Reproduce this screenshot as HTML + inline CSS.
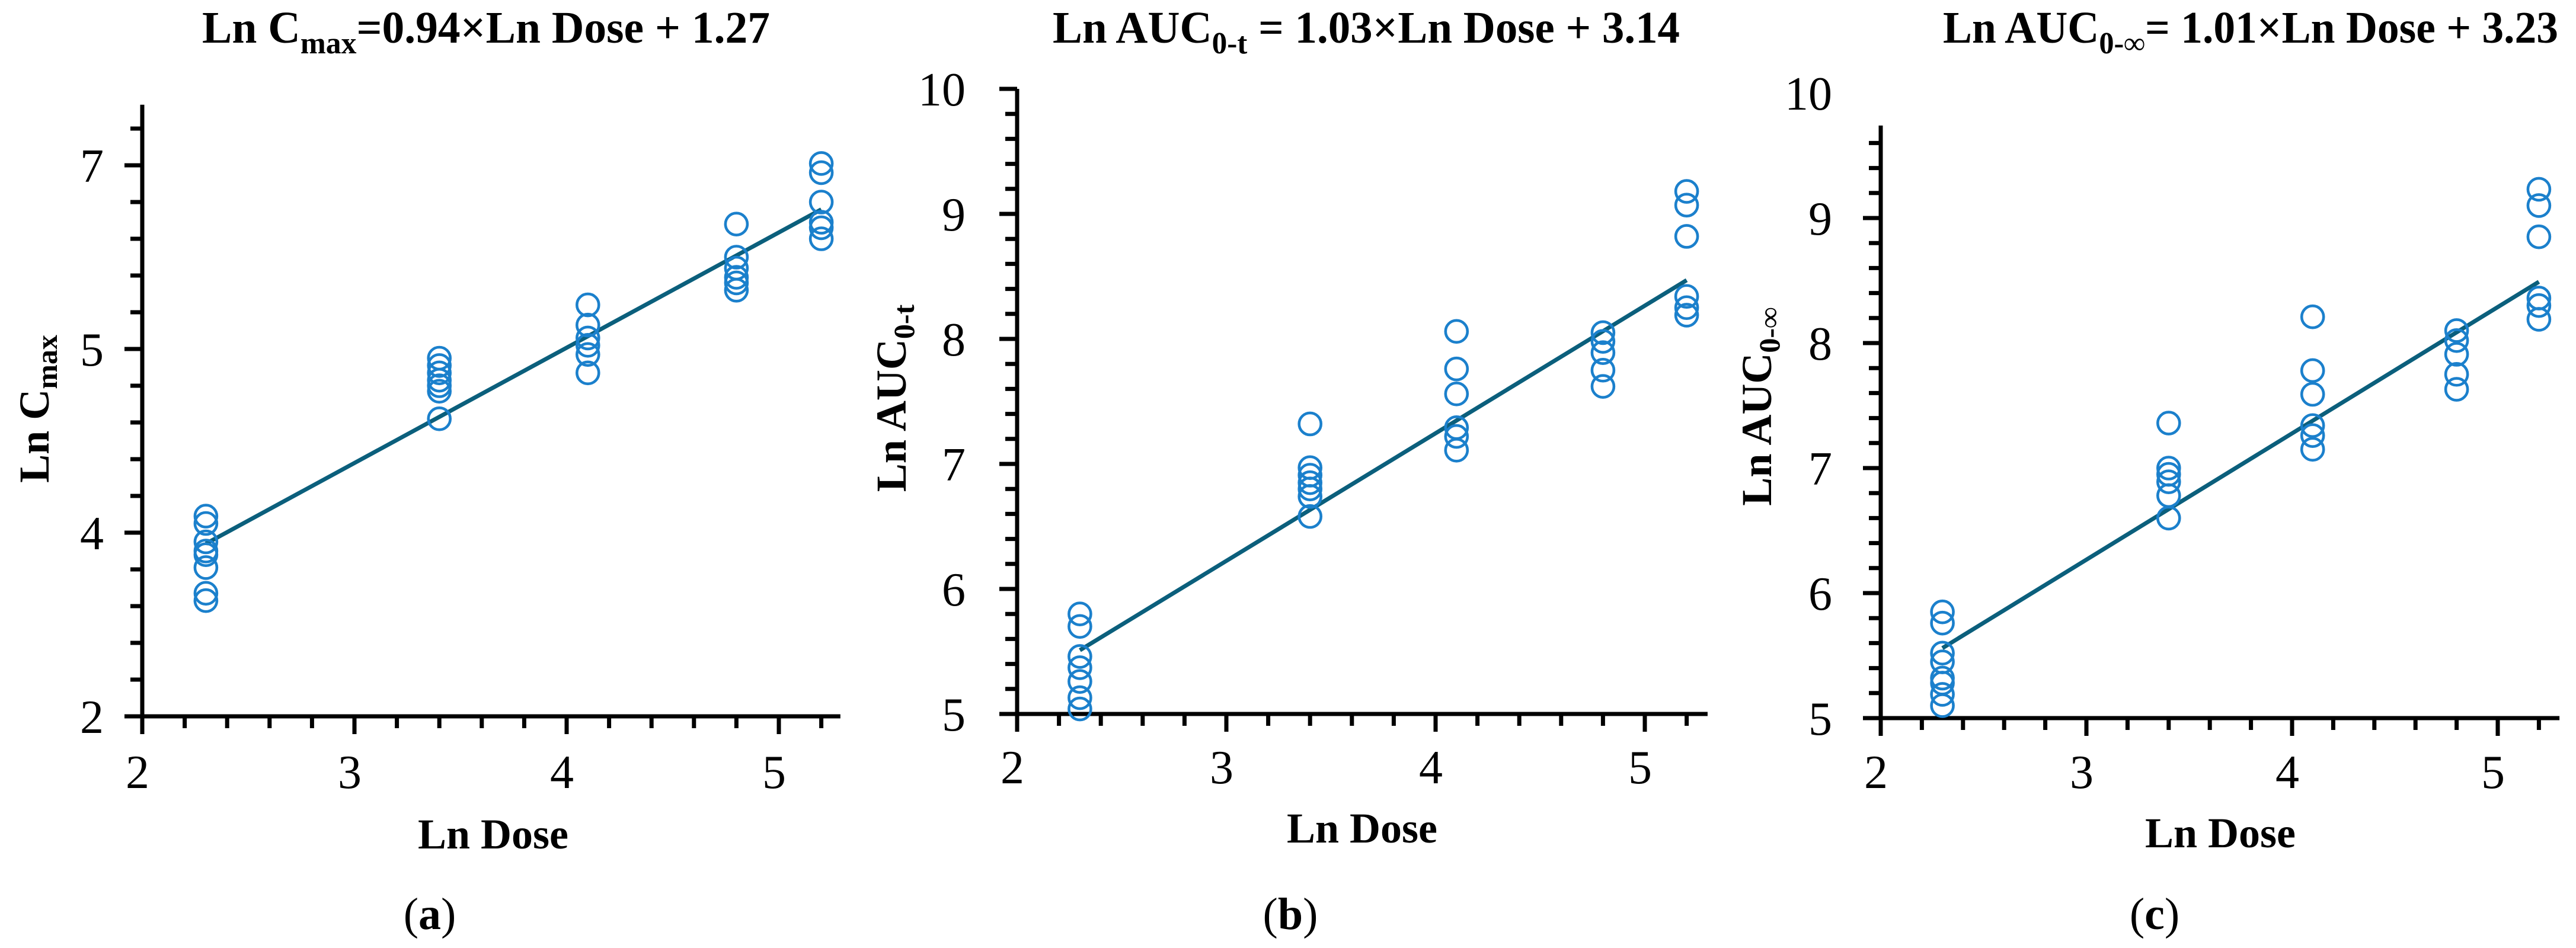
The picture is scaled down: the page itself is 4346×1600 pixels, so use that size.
<!DOCTYPE html>
<html><head><meta charset="utf-8"><style>
html,body{margin:0;padding:0;background:#fff;}
svg{display:block;font-family:"Liberation Serif",serif;}
</style></head><body>
<svg id="fig" width="4346" height="1600" viewBox="0 0 4346 1600" xmlns="http://www.w3.org/2000/svg">
<g><text x="341" y="72" font-size="76" font-weight="bold" textLength="958" lengthAdjust="spacingAndGlyphs">Ln C<tspan font-size="52" dy="18">max</tspan><tspan dy="-18">=0.94×Ln Dose + 1.27</tspan></text></g>
<g><text x="1776" y="72" font-size="76" font-weight="bold" textLength="1058" lengthAdjust="spacingAndGlyphs">Ln AUC<tspan font-size="52" dy="18">0-t</tspan><tspan dy="-18"> = 1.03×Ln Dose + 3.14</tspan></text></g>
<g><text x="3278" y="72" font-size="76" font-weight="bold" textLength="1038" lengthAdjust="spacingAndGlyphs">Ln AUC<tspan font-size="52" dy="18">0-∞</tspan><tspan dy="-18">= 1.01×Ln Dose + 3.23</tspan></text></g>
</svg>
<script>
// ---- Panel (a) data ----
const aX = [2.3,3.4,4.1,4.8,5.2];
const aY = [
  [4.09,4.05,3.95,3.90,3.88,3.81,3.67,3.63],
  [4.95,4.91,4.87,4.83,4.80,4.77,4.62],
  [5.24,5.13,5.06,5.02,4.97,4.87],
  [5.68,5.50,5.44,5.39,5.36,5.32],
  [6.01,5.96,5.80,5.69,5.66,5.60]
];
const aFitX = [2.3,5.2];
const aFitY = [3.94,5.76];
const aYTicks = [3,4,5,6];
const aYLabels = ["2","4","5","7"];
// ---- Panel (b) data ----
const bX = [2.3,3.4,4.1,4.8,5.2];
const bY = [
  [5.80,5.70,5.46,5.37,5.26,5.13,5.04],
  [7.32,6.97,6.91,6.85,6.80,6.74,6.58],
  [8.06,7.76,7.56,7.29,7.22,7.11],
  [8.05,7.98,7.89,7.75,7.62],
  [9.18,9.07,8.82,8.34,8.25,8.19]
];
const bFitX = [2.3,5.2];
const bFitY = [5.51,8.47];
const bYTicks = [5,6,7,8,9,10];
const bYLabels = ["5","6","7","8","9","10"];
// ---- Panel (c) data ----
const cX = [2.3,3.4,4.1,4.8,5.2];
const cY = [
  [5.85,5.76,5.52,5.45,5.32,5.28,5.19,5.10],
  [7.36,7.00,6.95,6.89,6.78,6.60],
  [8.21,7.78,7.59,7.34,7.26,7.15],
  [8.10,8.02,7.91,7.75,7.63],
  [9.23,9.10,8.85,8.36,8.30,8.19]
];
const cFitX = [2.3,5.2];
const cFitY = [5.56,8.49];
const cYTicks = [5,6,7,8,9,10];
const cYLabels = ["5","6","7","8","9","10"];
const xTicks = [2,3,4,5];
const xLabels = ["2","3","4","5"];

const NS = "http://www.w3.org/2000/svg";
const svg = document.getElementById('fig');
function mk(tag, attrs, parent){
  const e = document.createElementNS(NS, tag);
  for (const k in attrs) e.setAttribute(k, attrs[k]);
  parent.appendChild(e); return e;
}
function panel(id, cfg, X, Y, fitX, fitY, yTicks, yLabels){
  const g = mk('g', {}, svg);
  
  
  const sx = v => cfg.x0 + (v - 2) * cfg.kx;
  const sy = v => cfg.y0 - (v - cfg.ymin) * cfg.ky;
  const yt = mk('g', {stroke:'#000','stroke-width':7}, g);
  
  
  for (let i = 0; cfg.ymin + i*0.2 <= cfg.ymax + 1e-6; i++) {
    const v = cfg.ymin + i*0.2; const major = (i % 5 === 0);
    mk('line', {x1:cfg.x0 - (major?30:20), x2:cfg.x0, y1:sy(v), y2:sy(v)}, yt);
  }
  const xt = mk('g', {stroke:'#000','stroke-width':7}, g);
  
  
  for (let i = 0; 2 + i*0.2 <= cfg.xmax + 1e-6; i++) {
    const v = 2 + i*0.2; const major = (i % 5 === 0);
    mk('line', {x1:sx(v), x2:sx(v), y1:cfg.y0, y2:cfg.y0 + (major?30:20)}, xt);
  }
  const ya = mk('line', {x1:cfg.x0, x2:cfg.x0, y1:cfg.y0 + 3, y2:sy(cfg.ymax), stroke:'#000','stroke-width':7}, g);
  
  
  const xa = mk('line', {x1:cfg.x0 - 30, x2:sx(cfg.xmax), y1:cfg.y0, y2:cfg.y0, stroke:'#000','stroke-width':7}, g);
  
  
  yTicks.forEach((v, i) => {
    const t = mk('text', {x:cfg.ylx, y:sy(v) + 28, 'font-size':80, 'text-anchor':'end'}, g);
    t.textContent = yLabels[i];
    
    
  });
  xTicks.forEach((v, i) => {
    const t = mk('text', {x:sx(v) - 8, y:cfg.xly, 'font-size':80, 'text-anchor':'middle'}, g);
    t.textContent = xLabels[i];
    
    
  });
  const fl = mk('line', {x1:sx(fitX[0]), y1:sy(fitY[0]), x2:sx(fitX[1]), y2:sy(fitY[1]), stroke:'#0b5f7c','stroke-width':7}, g);
  
  
  X.forEach((xv, i) => {
    Y[i].forEach(yv => {
      const c = mk('circle', {cx:sx(xv), cy:sy(yv), r:18.5, fill:'none', stroke:'#1b80cc','stroke-width':4.6}, g);
      
      
    });
  });
  const xtl = mk('text', {x:cfg.xtx, y:cfg.xty, 'font-size':72, 'font-weight':'bold', 'text-anchor':'middle'}, g);
  xtl.textContent = 'Ln Dose';
  
  
  const ytl = mk('text', {x:0, y:0, 'font-size':72, 'font-weight':'bold', 'text-anchor':'middle', transform:'translate(' + cfg.ytx + ',' + cfg.yty + ') rotate(-90)'}, g);
  
  
  ytl.innerHTML = cfg.ytitle;
  const cap = mk('text', {x:cfg.capx, y:1568, 'font-size':76, 'text-anchor':'middle'}, g);
  
  
  cap.innerHTML = '(<tspan font-weight="bold">' + id + '</tspan>)';
}
panel('a', {x0:240, kx:358, y0:1209, ky:310, ymin:3, ymax:6.33, xmax:5.29, ylx:175, xly:1330, xtx:832, xty:1432, ytx:82, yty:690, capx:725,
  ytitle:'Ln C<tspan font-size="50" dy="14">max</tspan>'}, aX, aY, aFitX, aFitY, aYTicks, aYLabels);
panel('b', {x0:1716, kx:353, y0:1205, ky:211, ymin:5, ymax:10, xmax:5.3, ylx:1629, xly:1322, xtx:2298, xty:1422, ytx:1528, yty:672, capx:2177,
  ytitle:'Ln AUC<tspan font-size="50" dy="14">0-t</tspan>'}, bX, bY, bFitX, bFitY, bYTicks, bYLabels);
panel('c', {x0:3173, kx:347, y0:1212, ky:211, ymin:5, ymax:9.74, xmax:5.3, ylx:3091, xly:1330, xtx:3746, xty:1430, ytx:2988, yty:686, capx:3635,
  ytitle:'Ln AUC<tspan font-size="50" dy="14">0-∞</tspan>'}, cX, cY, cFitX, cFitY, cYTicks, cYLabels);
</script>
</body></html>
